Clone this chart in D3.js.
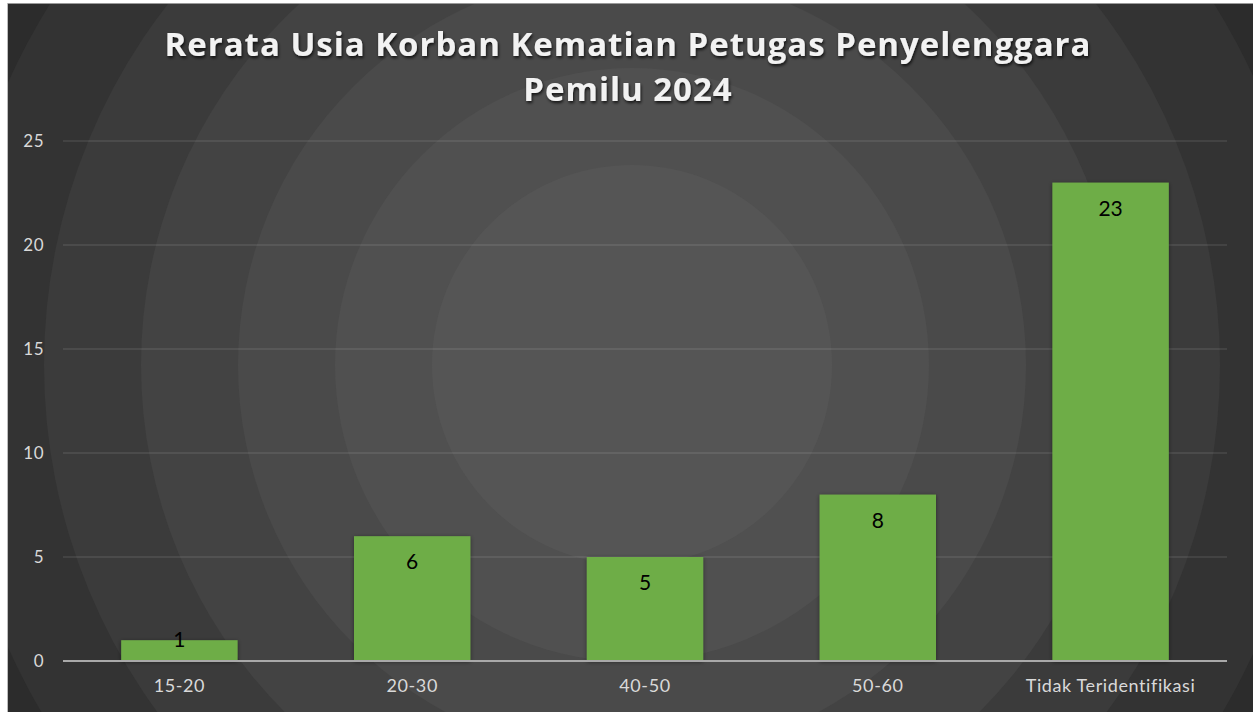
<!DOCTYPE html>
<html>
<head>
<meta charset="utf-8">
<script src="https://cdn.jsdelivr.net/npm/d3@7"></script>
<style>
  html, body { margin: 0; padding: 0; background: #ffffff; }
  #chart { width: 1253px; height: 712px; }
</style>
</head>
<body>
<div id="chart"></div>
<script>
// data
const categories = ["15-20", "20-30", "40-50", "50-60", "Tidak Teridentifikasi"];
const values = [1, 6, 5, 8, 23];
const yTicks = [0, 5, 10, 15, 20, 25];
const titleLines = ["Rerata Usia Korban Kematian Petugas Penyelenggara", "Pemilu 2024"];

// background banding (from center outwards)
const ringColors = ["#555555", "#505050", "#4a4a4a", "#434343", "#3b3b3b", "#333333", "#2c2c2c", "#262626"];

const width = 1253;
const height = 712;

const margin = {
    top: 141,
    bottom: 51,
    left: 63,
    right: 24
}

const svg = d3.select("#chart")
            .append("svg")
            .attr("width", width)
            .attr("height", height);

const defs = svg.append("defs");
defs.append("clipPath").attr("id", "frame")
    .append("rect").attr("x", 7).attr("y", 3).attr("width", width - 7).attr("height", height - 3);

const barShadow = defs.append("filter").attr("id", "barShadow")
    .attr("x", "-20%").attr("y", "-20%").attr("width", "140%").attr("height", "140%");
barShadow.append("feDropShadow")
    .attr("dx", 0).attr("dy", 1).attr("stdDeviation", 2)
    .attr("flood-color", "#000").attr("flood-opacity", 0.45);

const titleShadow = defs.append("filter").attr("id", "titleShadow")
    .attr("x", "-10%").attr("y", "-30%").attr("width", "120%").attr("height", "160%");
titleShadow.append("feDropShadow")
    .attr("dx", 1).attr("dy", 2).attr("stdDeviation", 1.5)
    .attr("flood-color", "#000").attr("flood-opacity", 0.75);

// background: concentric rings
const bg = svg.append("g").attr("clip-path", "url(#frame)");
const cx = 632, cy = 365, r0 = 200, ringStep = 97;
bg.selectAll("circle")
    .data(ringColors.map((c, i) => ({ c, r: i === ringColors.length - 1 ? 2000 : r0 + i * ringStep })).reverse())
    .enter()
    .append("circle")
    .attr("cx", cx)
    .attr("cy", cy)
    .attr("r", d => d.r)
    .attr("fill", d => d.c);

svg.append("line")
    .attr("x1", 7).attr("x2", width).attr("y1", 3.5).attr("y2", 3.5)
    .attr("stroke", "#9a9a9a").attr("stroke-width", 1);
svg.append("line")
    .attr("x1", 7.5).attr("x2", 7.5).attr("y1", 3).attr("y2", height)
    .attr("stroke", "#bdbdbd").attr("stroke-width", 1);

const xScale = d3.scaleBand()
                .domain(categories)
                .range([margin.left, width - margin.right - 2])
                .paddingInner(0.5)
                .paddingOuter(0.25);
const yScale = d3.scaleLinear()
                .domain([0, 25])
                .range([height - margin.bottom, margin.top]);

// gridlines
svg.append("g")
    .selectAll("line")
    .data(yTicks.filter(t => t > 0))
    .enter()
    .append("line")
    .attr("x1", margin.left)
    .attr("x2", width - margin.right - 2)
    .attr("y1", d => yScale(d))
    .attr("y2", d => yScale(d))
    .attr("stroke", "rgba(255,255,255,0.11)")
    .attr("stroke-width", 1.5);

// bars
svg.append("g")
    .selectAll("rect")
    .data(values)
    .enter()
    .append("rect")
    .attr("x", (_, i) => xScale(categories[i]))
    .attr("y", d => yScale(d))
    .attr("width", xScale.bandwidth())
    .attr("height", d => yScale(0) - yScale(d))
    .attr("fill", "#6ead47")
    .attr("filter", "url(#barShadow)");

// zero axis line
svg.append("line")
    .attr("x1", margin.left)
    .attr("x2", width - margin.right - 2)
    .attr("y1", yScale(0))
    .attr("y2", yScale(0))
    .attr("stroke", "#a9a9a9")
    .attr("stroke-width", 2);

// data labels
svg.append("g")
    .selectAll("text")
    .data(values)
    .enter()
    .append("text")
    .attr("x", (_, i) => xScale(categories[i]) + xScale.bandwidth() / 2)
    .attr("y", d => Math.min(yScale(d) + 33, yScale(0) - 14))
    .attr("text-anchor", "middle")
    .attr("font-family", "Lato, 'Noto Sans', sans-serif")
    .attr("font-size", 21)
    .attr("fill", "#000000")
    .text(d => d);

// y axis labels
const yAxis = d3.axisLeft(yScale).tickValues(yTicks).tickSize(0).tickPadding(0);
const yG = svg.append("g")
    .attr("transform", `translate(44, 0)`)
    .call(yAxis);
yG.select(".domain").remove();
yG.selectAll("text")
    .attr("font-family", "Lato, 'Noto Sans', sans-serif")
    .attr("font-size", 17)
    .attr("letter-spacing", 0.5)
    .attr("fill", "#d9d9d9");

// x axis labels
const xAxis = d3.axisBottom(xScale).tickSize(0).tickPadding(0);
const xG = svg.append("g")
    .attr("transform", `translate(0, ${yScale(0) + 18})`)
    .call(xAxis);
xG.select(".domain").remove();
xG.selectAll("text")
    .attr("font-family", "Lato, 'Noto Sans', sans-serif")
    .attr("font-size", 18)
    .attr("letter-spacing", 0.6)
    .attr("fill", "#d9d9d9");

// title
const title = svg.append("g").attr("filter", "url(#titleShadow)");
title.selectAll("text")
    .data(titleLines)
    .enter()
    .append("text")
    .attr("x", 628)
    .attr("y", (_, i) => 56 + i * 45)
    .attr("text-anchor", "middle")
    .attr("font-family", "'Open Sans', Lato, sans-serif")
    .attr("font-weight", "bold")
    .attr("font-size", 33)
    .attr("letter-spacing", 1)
    .attr("fill", "#f2f2f2")
    .text(d => d);

// fit first title line to its width in the picture
const first = title.select("text").node();
const w = first.getComputedTextLength();
const spacing = 1 + (927 - w) / (titleLines[0].length - 1);
title.selectAll("text").attr("letter-spacing", spacing);
</script>
</body>
</html>
